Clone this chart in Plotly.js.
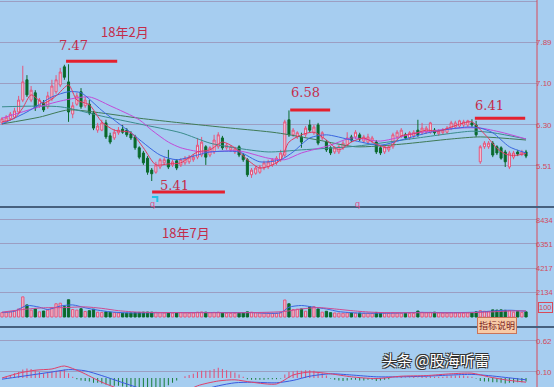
<!DOCTYPE html>
<html><head><meta charset="utf-8">
<script src="https://cdn.plot.ly/plotly-3.0.1.min.js"></script>
<style>html,body{margin:0;padding:0;background:#a6cdf0;overflow:hidden}#chart{width:554px;height:387px}</style>
</head><body><div id="chart"></div>
<script>
// weekly OHLC
const open  = [6.34,6.36,6.42,6.45,6.55,6.78,7.17,6.78,6.92,6.67,6.72,6.65,6.80,6.94,7.07,7.42,7.13,6.51,6.70,6.94,6.67,6.70,6.53,6.20,6.20,6.34,6.09,6.05,6.15,6.22,6.20,6.13,6.07,5.86,5.76,5.66,5.43,5.39,5.49,5.57,5.63,5.53,5.61,5.53,5.57,5.59,5.63,5.68,5.72,5.88,5.72,5.78,5.88,6.05,5.86,5.82,5.78,5.88,5.72,5.63,5.34,5.37,5.39,5.47,5.49,5.53,5.57,5.63,5.72,6.40,6.11,6.07,6.07,6.11,6.30,6.15,6.30,6.05,5.97,5.86,5.78,5.78,5.86,5.91,6.07,6.07,6.11,5.99,5.97,5.99,5.97,5.86,5.78,5.82,5.88,6.07,6.09,6.11,6.05,6.09,6.20,6.15,6.16,6.16,6.20,6.13,6.15,6.16,6.24,6.26,6.28,6.30,6.30,6.34,6.30,5.59,5.88,5.88,5.95,5.88,5.86,5.78,5.49,5.68,5.78,5.74,5.78];
const high  = [6.45,6.49,6.55,6.63,6.86,7.44,7.26,7.05,6.97,6.82,6.78,6.94,7.17,7.26,7.40,7.46,7.47,6.74,6.92,7.01,6.84,6.78,6.57,6.34,6.40,6.40,6.15,6.22,6.26,6.30,6.24,6.18,6.11,5.89,5.80,5.70,5.47,5.59,5.66,5.68,5.82,5.63,5.64,5.66,5.70,5.72,5.74,6.05,6.07,5.91,5.89,6.11,6.16,6.09,5.95,5.91,5.88,5.91,5.76,5.66,5.47,5.51,5.53,5.61,5.63,5.66,5.70,5.82,6.40,6.58,6.24,6.18,6.15,6.28,6.40,6.30,6.34,6.18,6.01,5.89,5.89,5.91,5.99,6.16,6.11,6.20,6.15,6.11,6.13,6.09,6.01,5.89,5.91,5.91,6.15,6.20,6.24,6.15,6.18,6.20,6.40,6.34,6.28,6.36,6.24,6.22,6.24,6.28,6.38,6.38,6.40,6.40,6.40,6.41,6.38,5.91,5.99,5.99,5.99,5.91,5.89,5.82,5.80,5.80,5.82,5.82,5.82];
const low   = [6.30,6.34,6.38,6.43,6.51,6.74,6.84,6.74,6.57,6.63,6.55,6.61,6.76,6.90,7.03,7.17,6.36,6.43,6.67,6.61,6.63,6.49,6.20,6.15,6.18,6.03,5.93,6.01,6.11,6.13,6.07,6.01,5.82,5.64,5.53,5.34,5.22,5.36,5.45,5.53,5.45,5.49,5.43,5.49,5.53,5.55,5.59,5.64,5.68,5.53,5.68,5.74,5.84,5.82,5.82,5.78,5.74,5.68,5.59,5.30,5.28,5.34,5.36,5.43,5.45,5.49,5.53,5.59,5.68,6.07,6.07,6.03,5.86,6.07,6.16,6.11,5.91,6.01,5.78,5.72,5.74,5.74,5.82,5.88,5.97,6.03,5.99,5.95,5.93,5.95,5.74,5.72,5.74,5.78,5.84,6.03,6.05,6.01,6.01,6.05,6.07,6.11,6.13,6.13,6.11,6.09,6.11,6.13,6.20,6.22,6.24,6.26,6.26,6.26,6.07,5.55,5.84,5.84,5.68,5.72,5.63,5.49,5.45,5.64,5.70,5.70,5.66];
const close = [6.42,6.45,6.51,6.57,6.78,7.13,6.88,6.97,6.63,6.78,6.59,6.86,7.05,7.17,7.32,7.22,6.55,6.67,6.86,6.65,6.78,6.53,6.24,6.28,6.34,6.07,5.97,6.16,6.20,6.16,6.11,6.05,5.86,5.68,5.57,5.39,5.36,5.53,5.63,5.63,5.49,5.59,5.47,5.63,5.66,5.68,5.68,5.91,5.97,5.68,5.86,6.01,6.11,5.86,5.91,5.88,5.84,5.72,5.63,5.34,5.43,5.47,5.49,5.57,5.59,5.63,5.66,5.76,6.36,6.11,6.20,6.15,5.97,6.24,6.20,6.26,5.95,6.15,5.82,5.76,5.86,5.88,5.95,6.05,6.01,6.16,6.03,6.07,6.07,6.05,5.78,5.76,5.88,5.88,6.11,6.16,6.20,6.05,6.15,6.16,6.11,6.24,6.24,6.34,6.15,6.18,6.20,6.24,6.34,6.34,6.38,6.36,6.38,6.30,6.11,5.88,5.95,5.95,5.72,5.76,5.66,5.59,5.76,5.76,5.74,5.78,5.70];
const volume = [380,420,450,520,700,1750,1050,600,700,450,520,600,780,1150,1200,900,1500,650,600,720,480,550,680,420,400,450,420,380,350,330,340,350,380,400,420,430,420,400,380,350,380,340,360,380,360,340,350,420,440,420,380,400,420,380,330,320,330,340,360,450,420,380,360,340,330,320,320,380,1480,1150,650,680,700,500,880,900,700,420,500,380,350,340,330,360,350,330,340,320,330,320,400,380,340,330,360,340,330,320,330,320,520,400,380,400,420,360,340,330,380,360,350,340,360,380,450,550,500,480,620,600,620,580,560,420,480,400,450];
const macdHist = [0.00,0.02,0.05,0.08,0.10,0.14,0.16,0.15,0.13,0.10,0.08,0.09,0.11,0.12,0.13,0.14,0.08,0.02,-0.02,-0.04,-0.05,-0.06,-0.08,-0.08,-0.09,-0.11,-0.13,-0.13,-0.13,-0.14,-0.15,-0.16,-0.18,-0.20,-0.22,-0.25,-0.25,-0.22,-0.18,-0.15,-0.12,-0.08,-0.04,0.00,0.03,0.05,0.07,0.10,0.12,0.12,0.13,0.15,0.17,0.15,0.13,0.11,0.09,0.06,0.02,-0.02,-0.03,-0.03,-0.03,-0.03,-0.02,-0.02,-0.02,-0.01,0.06,0.10,0.11,0.12,0.12,0.13,0.13,0.12,0.10,0.08,0.04,-0.01,-0.03,-0.04,-0.05,-0.04,-0.03,-0.03,-0.04,-0.04,-0.03,-0.03,-0.05,-0.04,-0.03,-0.02,0.00,0.01,0.02,0.01,0.01,0.02,0.01,0.02,0.02,0.03,0.02,0.02,0.02,0.03,0.04,0.04,0.04,0.04,0.03,0.02,-0.01,-0.05,-0.06,-0.06,-0.07,-0.07,-0.08,-0.09,-0.08,-0.08,-0.07,-0.07,-0.06];

// moving-average lines, read at sample weeks
const ma5Idx  = [0,3,5,7,10,13,16,18,21,24,27,31,34,37,40,43,47,50,53,56,59,62,65,67,69,72,75,78,81,84,87,90,93,96,99,102,105,108,111,113,115,117,119,121,123,126];
const ma5     = [6.36,6.43,6.63,6.88,6.72,6.86,7.07,6.78,6.69,6.36,6.20,6.15,5.86,5.53,5.55,5.57,5.78,5.82,5.97,5.86,5.63,5.47,5.53,5.63,5.97,6.11,6.16,6.01,5.82,5.97,6.05,5.93,5.86,6.09,6.13,6.20,6.18,6.26,6.34,6.36,6.21,6.04,5.85,5.74,5.71,5.75];
const ma10Idx = [0,6,12,16,19,24,31,38,42,47,50,57,62,67,70,74,78,84,91,96,103,112,115,118,122,126];
const ma10    = [6.32,6.55,6.84,6.94,6.92,6.58,6.15,5.72,5.63,5.72,5.78,5.78,5.59,5.63,5.78,6.05,6.11,6.01,5.91,6.01,6.16,6.26,6.24,6.15,5.88,5.76];
const ma20Idx = [0,14,21,26,33,36,40,43,48,57,64,68,72,79,84,91,100,110,115,120,126];
const ma20    = [6.43,6.76,6.84,6.67,6.40,6.20,5.97,5.86,5.78,5.80,5.66,5.63,5.76,5.91,6.05,5.99,6.15,6.24,6.24,6.16,6.03];
const ma30Idx = [0,14,24,33,43,50,56,64,72,85,100,113,118,126];
const ma30    = [6.65,6.65,6.47,6.32,6.15,5.95,5.86,5.78,5.82,5.89,6.05,6.18,6.15,6.03];
const ma60Idx = [0,9,16,24,33,43,55,66,76,85,96,108,115,126];
const ma60    = [6.32,6.45,6.59,6.53,6.43,6.34,6.24,6.15,6.01,5.88,5.93,6.03,6.07,6.01];

const volMaAIdx = [0,3,6,9,11,14,17,20,23,26,30,40,50,60,67,69,72,75,78,81,86,95,100,108,114,118,122,126];
const volMaA    = [400,500,1000,850,650,950,1050,800,600,450,360,380,390,380,370,850,1000,850,700,470,340,350,400,380,420,520,590,500];
const volMaBIdx = [0,5,10,15,20,24,28,33,45,60,68,72,76,80,85,90,100,112,118,122,126];
const volMaB    = [420,650,800,820,880,750,550,420,380,380,480,700,820,700,520,400,370,370,450,520,530];

const difIdx = [0,4,8,12,15,19,24,30,36,42,47,52,56,60,66,70,74,79,84,90,96,102,108,113,117,121,126];
const dif    = [0.00,0.08,0.13,0.15,0.20,0.10,-0.07,-0.23,-0.37,-0.30,-0.13,-0.05,-0.03,-0.07,-0.10,0.05,0.10,0.07,0.02,-0.01,0.03,0.04,0.07,0.08,0.02,-0.03,-0.07];
const deaIdx = [0,4,8,12,16,20,24,30,36,42,47,52,56,60,66,70,74,79,84,90,96,102,108,113,117,121,126];
const dea    = [-0.02,0.02,0.06,0.10,0.14,0.12,0.04,-0.10,-0.23,-0.29,-0.22,-0.13,-0.08,-0.07,-0.08,-0.04,0.03,0.07,0.05,0.02,0.02,0.03,0.05,0.06,0.04,0.01,-0.03];

const priceTicks = [8.67,7.89,7.10,6.30,5.51];
const priceTickText = ['8.67','7.89','7.10','6.30','5.51'];
const volTicks = [2134,4217,6351,8434];
const macdTicks = [0.62,0.10];
const macdTickText = ['0.62','0.10'];

const idx = close.map((_, i) => i);
const UP = '#e4557c', UPFILL = '#f5d8e3', DN = '#0a6a2c';
const volFill = close.map((c, i) => c >= open[i] ? '#f2bccb' : DN);
const volLine = close.map((c, i) => c >= open[i] ? UP : DN);
const histCol = macdHist.map(v => v >= 0 ? '#e0507a' : '#1e8040');

const line = (x, y, color, ax) => ({type:'scatter', mode:'lines', x, y, yaxis: ax,
  line:{color, width:1, shape:'spline', smoothing:0.7}, hoverinfo:'skip'});

const traces = [
  {type:'candlestick', x: idx, open, high, low, close, yaxis:'y',
   increasing:{line:{color:UP, width:1}, fillcolor:UPFILL},
   decreasing:{line:{color:DN, width:1}, fillcolor:DN},
   whiskerwidth:0, hoverinfo:'skip'},
  line(ma60Idx, ma60, '#3f7a55', 'y'),
  line(ma30Idx, ma30, '#3a8c8c', 'y'),
  line(ma20Idx, ma20, '#c24ad8', 'y'),
  line(ma10Idx, ma10, '#3a66e0', 'y'),
  line(ma5Idx, ma5, '#e03a60', 'y'),
  {type:'bar', x: idx, y: volume, yaxis:'y2', width:0.55,
   marker:{color: volFill, line:{color: volLine, width:1}}, hoverinfo:'skip'},
  line(volMaAIdx, volMaA, '#3a66e0', 'y2'),
  line(volMaBIdx, volMaB, '#d04a90', 'y2'),
  {type:'bar', x: idx, y: macdHist, yaxis:'y3', width:0.25,
   marker:{color: histCol}, hoverinfo:'skip'},
  line(deaIdx, dea, '#3a5ae0', 'y3'),
  line(difIdx, dif, '#e0406a', 'y3')
];

const tickFont = {size:8, color:'#d24a5c', family:'Liberation Sans, Arial, sans-serif'};
const volTickFont = {size:7.5, color:'#d24a5c', family:'Liberation Sans, Arial, sans-serif'};
const GRID = '#9c9ec2';
const ann = (x, y, text, size, extra) => Object.assign({xref:'x', yref:'y', x, y, text, showarrow:false,
  font:{size, color:'#c42c4a', family:'DejaVu Serif, serif'}}, extra || {});

const layout = {
  width:554, height:387, margin:{l:0, r:17, t:0, b:0},
  paper_bgcolor:'#a6cdf0', plot_bgcolor:'#a6cdf0', showlegend:false,
  xaxis:{range:[-0.481, 128.64], visible:false, rangeslider:{visible:false}, fixedrange:true},
  yaxis:{domain:[0.4651,1], range:[4.719,8.708], side:'right', tickvals:priceTicks, ticktext:priceTickText,
    tickfont:tickFont, ticklabelstandoff:-2, showgrid:true, gridcolor:GRID, zeroline:false, showline:false, ticks:''},
  yaxis2:{domain:[0.1731,0.4625], range:[-261,9472], side:'right', anchor:'x', tickvals:volTicks,
    ticktext:volTicks.map(String), tickfont:volTickFont, ticklabelstandoff:-2, showgrid:true, gridcolor:GRID, zeroline:false, ticks:''},
  yaxis3:{domain:[0,0.1499], range:[-0.150,0.817], side:'right', anchor:'x', tickvals:macdTicks,
    ticktext:macdTickText, tickfont:tickFont, ticklabelstandoff:-2, showgrid:true, gridcolor:GRID, zeroline:false, ticks:''},
  shapes:[
    {type:'line', xref:'paper', yref:'paper', x0:1, x1:1, y0:0, y1:1, line:{color:'#d84a5a', width:1}},
    {type:'line', xref:'paper', yref:'paper', x0:0, x1:1.04, y0:0.4651, y1:0.4651, line:{color:'#46607e', width:2}},
    {type:'line', xref:'paper', yref:'paper', x0:0, x1:1.04, y0:0.155, y1:0.155, line:{color:'#46607e', width:2}},
    {type:'line', xref:'x', yref:'y', x0:15.4, x1:27.7, y0:7.53, y1:7.53, line:{color:'#e4202e', width:3}},
    {type:'line', xref:'x', yref:'y', x0:69.3, x1:78.9, y0:6.59, y1:6.59, line:{color:'#e4202e', width:3}},
    {type:'line', xref:'x', yref:'y', x0:113.7, x1:125.8, y0:6.43, y1:6.43, line:{color:'#e4202e', width:3}},
    {type:'line', xref:'x', yref:'y', x0:36.1, x1:53.6, y0:5.01, y1:5.01, line:{color:'#e4202e', width:3}},
    {type:'path', xref:'paper', yref:'paper', path:'M 0.283,0.491 L 0.293,0.491 L 0.293,0.478', line:{color:'#22c4e6', width:2}}
  ],
  annotations:[
    ann(29.6, 8.11, '18年2月', 13, {font:{size:13, color:'#c42c4a', family:'Noto Sans CJK SC'}}),
    ann(17.1, 7.84, '7.47', 13),
    ann(72.9, 6.92, '6.58', 13),
    ann(117.1, 6.67, '6.41', 13),
    ann(41.4, 5.14, '5.41', 13),
    {xref:'paper', yref:'paper', x:0.298, y:0.4005, text:'18年7月', showarrow:false,
     font:{size:13, color:'#c42c4a', family:'Noto Sans CJK SC'}},
    ann(36.1, 4.78, 'q', 9, {font:{size:9, color:'#e0508a', family:'Liberation Sans'}}),
    ann(85.4, 4.78, 'q', 9, {font:{size:9, color:'#e0508a', family:'Liberation Sans'}}),
    {xref:'paper', yref:'paper', x:1.002, y:0.191, xanchor:'left', text:'100', showarrow:false,
     font:{size:7.5, color:'#d24a5c', family:'Liberation Sans'}, bordercolor:'#d84a5a', borderwidth:1, borderpad:0},
    {xref:'paper', yref:'paper', x:0.963, y:0.137, text:'指标说明', showarrow:false,
     font:{size:9, color:'#7a1c1c', family:'Noto Sans CJK SC'}, bgcolor:'#f7caa6', bordercolor:'#c8745a', borderwidth:1, borderpad:1},
    {xref:'paper', yref:'paper', x:0.916, y:0.039, text:'头条 @股海听雷', showarrow:false,
     font:{size:15, color:'#ffffff', family:'Noto Sans CJK SC',
       shadow:'-1px -1px 0 #333, 1px -1px 0 #333, -1px 1px 0 #333, 1px 1px 0 #333'}}
  ]
};

Plotly.newPlot('chart', traces, layout, {displayModeBar:false, staticPlot:true});
</script></body></html>
